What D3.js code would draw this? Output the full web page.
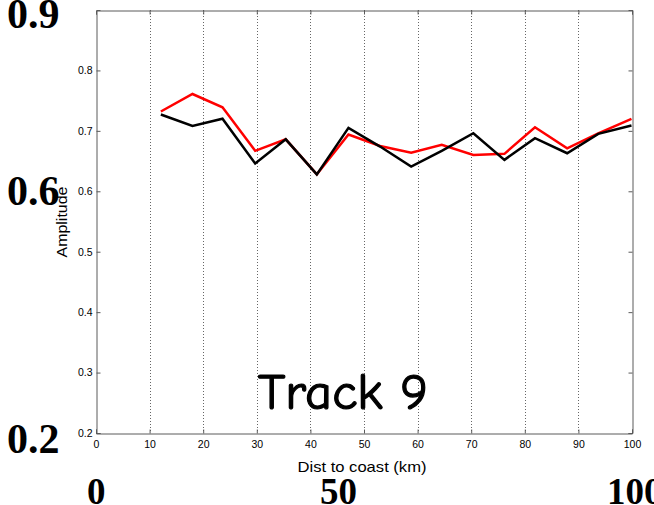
<!DOCTYPE html>
<html>
<head>
<meta charset="utf-8">
<script src="https://cdn.jsdelivr.net/npm/d3@7/dist/d3.min.js"></script>
<style>
  html, body { margin: 0; padding: 0; background: #fff; }
  svg { display: block; }
</style>
</head>
<body>
<svg id="chart" width="654" height="505"></svg>
<script>
// Distance to coast (km) of each sample along the track
const distKm = [12.1, 18.0, 23.6, 29.7, 35.4, 41.2, 47.1, 53.0, 58.8, 64.5, 70.4, 76.2, 81.9, 87.9, 93.7, 99.9];
// Amplitude series
const redAmp   = [0.732, 0.761, 0.739, 0.667, 0.686, 0.628, 0.694, 0.675, 0.664, 0.677, 0.660, 0.662, 0.706, 0.671, 0.696, 0.720];
const blackAmp = [0.727, 0.708, 0.720, 0.646, 0.686, 0.628, 0.705, 0.674, 0.641, 0.667, 0.696, 0.652, 0.688, 0.663, 0.695, 0.709];
// Axis ticks
const xTicks = [0, 10, 20, 30, 40, 50, 60, 70, 80, 90, 100];
const yTicks = [0.2, 0.3, 0.4, 0.5, 0.6, 0.7, 0.8];
// Large overlay labels
const bigYLabels = ["0.9", "0.6", "0.2"];
const bigXLabels = ["0", "50", "100"];

const svg = d3.select("#chart");
const L = 96, R = 632, T = 10, B = 433;
const x = d3.scaleLinear().domain([0, 100]).range([L, R]);
const y = d3.scaleLinear().domain([0.2, 0.9]).range([B, T]);
const axisColor = "#5a5a5a";
const tickFont = "Liberation Sans, Arial, sans-serif";

// Vertical dotted grid lines
svg.append("g").selectAll("line")
  .data(xTicks.filter(d => d > 0 && d < 100))
  .join("line")
  .attr("x1", d => Math.round(x(d)) + 0.5).attr("x2", d => Math.round(x(d)) + 0.5)
  .attr("y1", T).attr("y2", B)
  .attr("stroke", "#666").attr("stroke-width", 1)
  .attr("stroke-dasharray", "1,2");

// Bottom axis
const xAxis = d3.axisBottom(x).tickValues(xTicks).tickSize(-4).tickPadding(7).tickFormat(d3.format("d"));
const gx = svg.append("g").attr("transform", `translate(0,${B + 0.5})`).call(xAxis);
gx.select(".domain").attr("stroke", axisColor);
gx.selectAll(".tick line").attr("stroke", axisColor);
gx.selectAll("text").attr("font-family", tickFont).attr("font-size", 10.5).attr("fill", "#000");

// Left axis
const yAxis = d3.axisLeft(y).tickValues(yTicks).tickSize(-4).tickPadding(4).tickFormat(d3.format(".1f"));
const gy = svg.append("g").attr("transform", `translate(${L + 0.5},0)`).call(yAxis);
gy.select(".domain").attr("stroke", axisColor);
gy.selectAll(".tick line").attr("stroke", axisColor);
gy.selectAll("text").attr("font-family", tickFont).attr("font-size", 10.5).attr("fill", "#000");

// Top and right box edges with inward ticks
const gt = svg.append("g").attr("transform", `translate(0,${T + 0.5})`)
  .call(d3.axisTop(x).tickValues(xTicks).tickSize(-4).tickFormat(""));
gt.select(".domain").attr("stroke", axisColor);
gt.selectAll(".tick line").attr("stroke", axisColor);
const gr = svg.append("g").attr("transform", `translate(${R + 0.5},0)`)
  .call(d3.axisRight(y).tickValues(yTicks).tickSize(-4).tickFormat(""));
gr.select(".domain").attr("stroke", axisColor);
gr.selectAll(".tick line").attr("stroke", axisColor);

// Axis titles
svg.append("text")
  .attr("x", 362).attr("y", 472)
  .attr("text-anchor", "middle")
  .attr("font-family", tickFont).attr("font-size", 14.5)
  .attr("textLength", 129).attr("lengthAdjust", "spacingAndGlyphs")
  .text("Dist to coast (km)");
svg.append("text")
  .attr("transform", "translate(67,222) rotate(-90)")
  .attr("text-anchor", "middle")
  .attr("font-family", tickFont).attr("font-size", 14.5)
  .attr("textLength", 71).attr("lengthAdjust", "spacingAndGlyphs")
  .text("Amplitude");

// Series lines
const line = (vals) => d3.line().x((d, i) => x(distKm[i])).y(d => y(d))(vals);
svg.append("path").attr("d", line(redAmp))
  .attr("fill", "none").attr("stroke", "#ff0000").attr("stroke-width", 2.5)
  .attr("stroke-linejoin", "miter");
svg.append("path").attr("d", line(blackAmp))
  .attr("fill", "none").attr("stroke", "#000").attr("stroke-width", 2.5)
  .attr("stroke-linejoin", "miter");

// Track label
svg.append("text")
  .attr("x", 343).attr("y", 409)
  .attr("text-anchor", "middle")
  .attr("font-family", "'Comic Sans MS', 'Comic Neue', 'DejaVu Sans', sans-serif")
  .attr("font-size", 50)
  .attr("stroke", "#000").attr("stroke-width", 1.2)
  .attr("textLength", 170).attr("lengthAdjust", "spacingAndGlyphs")
  .text("Track 9");

// Large serif labels
const bigFont = "'Liberation Serif', 'Times New Roman', serif";
const bigYPos = [28, 205, 453];
svg.append("g").selectAll("text").data(bigYLabels).join("text")
  .attr("x", 7).attr("y", (d, i) => bigYPos[i])
  .attr("font-family", bigFont).attr("font-weight", "bold").attr("font-size", 42)
  .text(d => d);
const bigXPos = [87, 320, 607];
svg.append("g").selectAll("text").data(bigXLabels).join("text")
  .attr("x", (d, i) => bigXPos[i]).attr("y", 504)
  .attr("font-family", bigFont).attr("font-weight", "bold").attr("font-size", 37)
  .text(d => d);
</script>
</body>
</html>
